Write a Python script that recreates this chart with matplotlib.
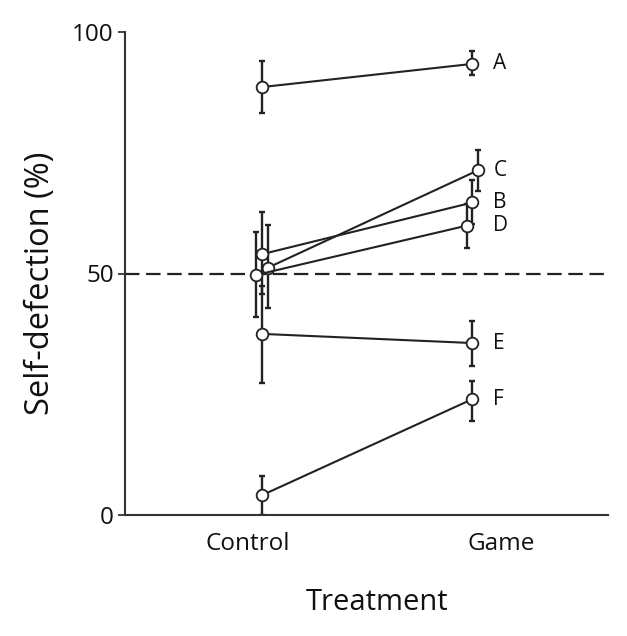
import numpy as np
import matplotlib
matplotlib.use("Agg")
from matplotlib import pyplot as plt

plt.rcParams['font.family'] = ['Open Sans', 'DejaVu Sans']

# group labels and values (control, game)
groups = ['A', 'B', 'C', 'D', 'E', 'F']
treatments = ['Control', 'Game']
control = [88.6, 54.0, 51.2, 49.7, 37.5, 4.1]
control_lo = [83.2, 45.7, 42.9, 41.0, 27.3, 0.1]
control_hi = [94.0, 62.7, 60.0, 58.6, 47.4, 8.1]
game = [93.4, 64.7, 71.4, 59.9, 35.6, 24.0]
game_lo = [91.1, 60.3, 67.1, 55.3, 30.9, 19.5]
game_hi = [96.1, 69.4, 75.6, 64.4, 40.2, 27.7]
# small horizontal jitter so overlapping points can be seen
jitter = [0.0, 0.0, 0.028, -0.028, 0.0, 0.0]
# category labels sit a bit outward of the points in the original
label_pos = [-0.069, 1.135]

ink = '#222222'

fig = plt.figure(figsize=(6.27, 6.36), dpi=100)
ax = fig.add_axes([125/627, 121/636, 483/627, 483/636])

ax.axhline(50, color=ink, lw=1.6, dashes=(6.5, 3), zorder=1)

for i, g in enumerate(groups):
    xs = np.array([0, 1]) + jitter[i]
    ys = np.array([control[i], game[i]])
    lo = ys - np.array([control_lo[i], game_lo[i]])
    hi = np.array([control_hi[i], game_hi[i]]) - ys
    ax.errorbar(xs, ys, yerr=[lo, hi], fmt='none', ecolor=ink,
                elinewidth=1.7, capsize=2.4, capthick=1.7, zorder=2)
    ax.plot(xs, ys, color=ink, lw=1.5, marker='o', ms=8.4,
            mfc='white', mec=ink, mew=1.3, zorder=3)
    ax.annotate(g, (1, game[i]), xytext=(15, 0), textcoords='offset points',
                va='center', ha='left', fontsize=15, color='#111111')

ax.set_xlim(-0.651, 1.644)
ax.set_ylim(0, 100)
ax.set_xticks(label_pos)
ax.set_xticklabels(treatments)
ax.set_yticks([0, 50, 100])
ax.tick_params(axis='x', length=0, pad=12, labelsize=17.5, labelcolor='#111111')
ax.tick_params(axis='y', length=5, width=1.2, pad=3, labelsize=17.5,
               color=ink, labelcolor='#111111', direction='out')

for s in ['top', 'right']:
    ax.spines[s].set_visible(False)
for s in ['left', 'bottom']:
    ax.spines[s].set_color('#333333')
    ax.spines[s].set_linewidth(1.5)

ax.set_xlabel('Treatment', fontsize=21, color='#111111')
ax.xaxis.set_label_coords((377 - 125) / 483, -(73) / 483)
ax.set_ylabel('Self-defection (%)', fontsize=23.5, color='#111111')
ax.yaxis.set_label_coords(-(125 - 57) / 483, 0.479)

fig.savefig('out.png', dpi=100)
